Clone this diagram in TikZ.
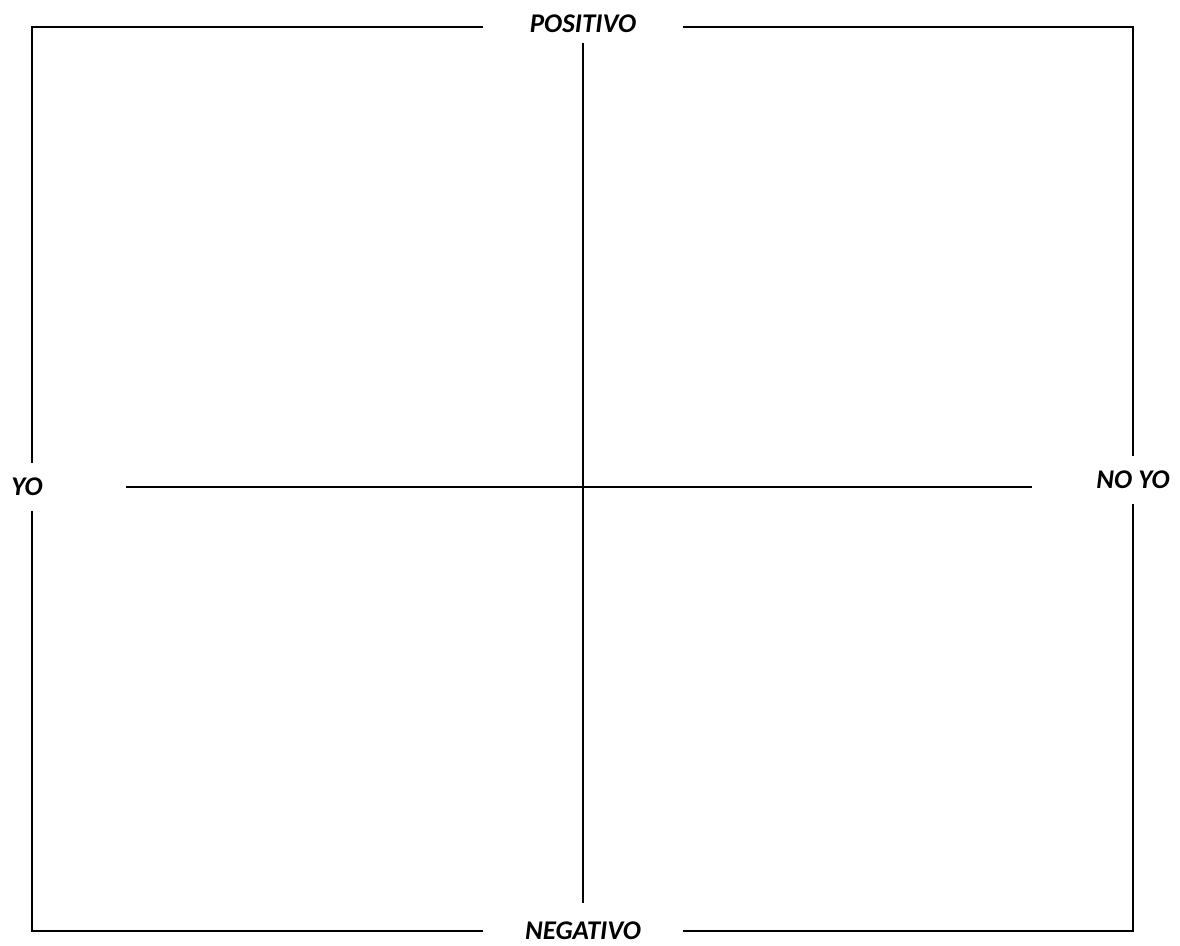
\documentclass[tikz,border=0pt]{standalone}
\usepackage{fontspec}
\setmainfont{Carlito}
\usepackage{tikz}
\usetikzlibrary{positioning}

\begin{document}
\begin{tikzpicture}[
  x=0.5pt, y=-0.5pt,
  axis/.style={line width=1pt, draw=black},
  hlbl/.style={font=\fontsize{13.5}{16}\selectfont\bfseries\itshape, minimum width=100pt, minimum height=14pt, inner sep=0pt},
  vlbl/.style={font=\fontsize{13.5}{16}\selectfont\bfseries\itshape, minimum width=10pt, minimum height=24pt, inner sep=0pt}
]
\useasboundingbox (0,0) rectangle (1180,946);
\node[hlbl] (pos) at (583,27) {\raisebox{2.9pt}{POSITIVO}};
\node[hlbl] (neg) at (583,931) {\raisebox{0.8pt}{NEGATIVO}};
\node[vlbl] (yo) at (32,487) {\hspace*{-5pt}\raisebox{-1.5pt}{YO}};
\node[vlbl] (noyo) at (1133,480) {\raisebox{-1pt}{NO YO}};

\coordinate (ytop) at (583,43);
\coordinate (ybot) at (583,903);
\coordinate (xleft) at (126,487);
\coordinate (xright) at (1032,487);

% frame
\draw[axis] (pos.east) -| (noyo.north);
\draw[axis] (noyo.south) |- (neg.east);
\draw[axis] (neg.west) -| (yo.south);
\draw[axis] (yo.north) |- (pos.west);

% axes
\draw[axis] (ytop) -- (ybot);
\draw[axis] (xleft) -- (xright);
\end{tikzpicture}
\end{document}
